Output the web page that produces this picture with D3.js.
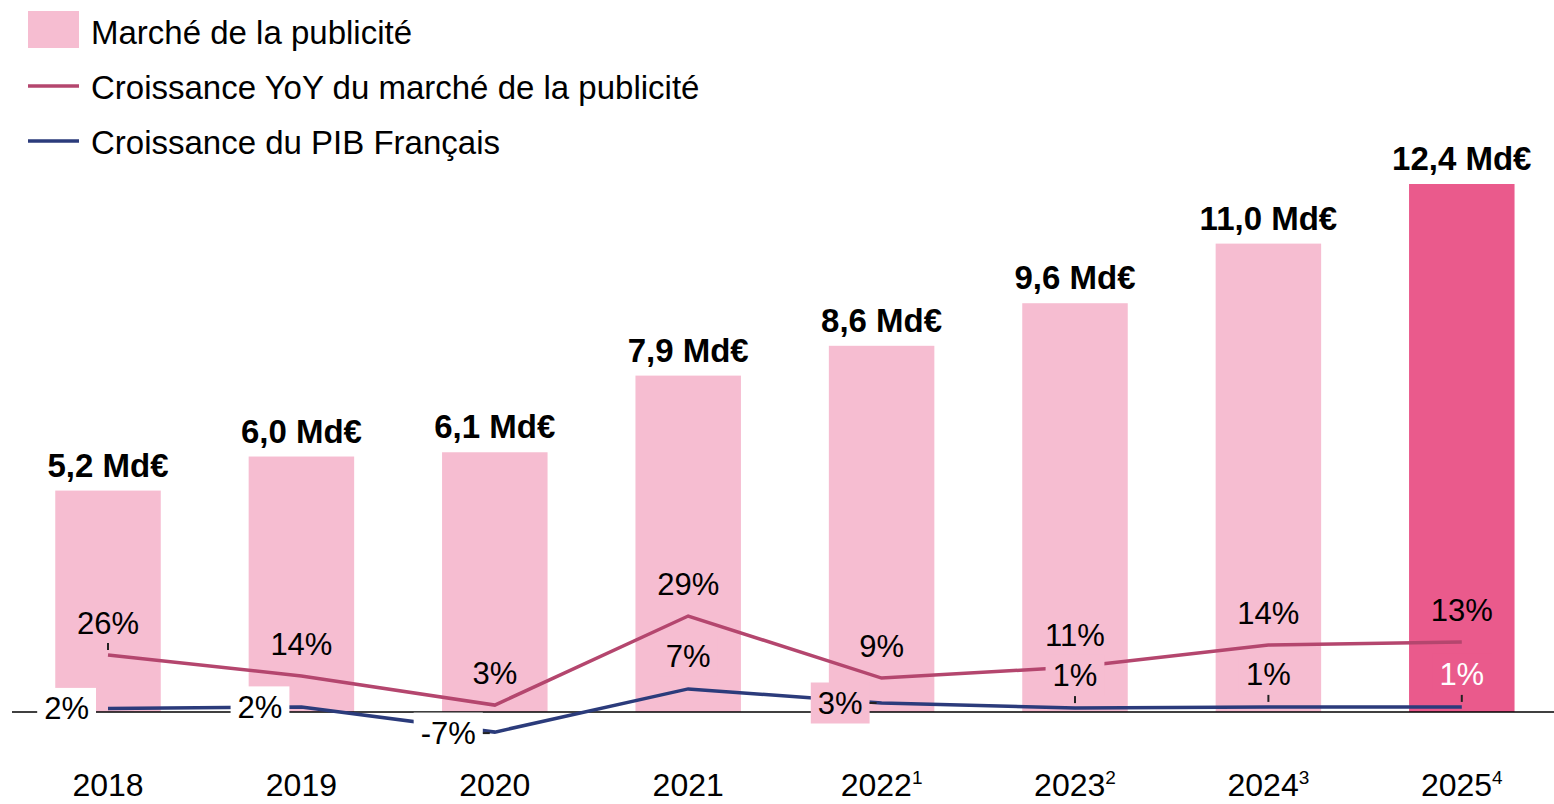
<!DOCTYPE html>
<meta charset="utf-8">
<script src="https://cdnjs.cloudflare.com/ajax/libs/d3/7.8.5/d3.min.js"></script>
<style>
  body { margin: 0; background: #fff; }
  text { font-family: "Liberation Sans", Arial, sans-serif; }
</style>
<div id="chart"></div>
<script>

  // data
  const years = ['2018', '2019', '2020', '2021', '2022', '2023', '2024', '2025']
  const yearNotes = ['', '', '', '', '1', '2', '3', '4']
  const market = [5.2, 6.0, 6.1, 7.9, 8.6, 9.6, 11.0, 12.4]           // Md€
  const adGrowth = [26, 14, 3, 29, 9, 11, 14, 13]                    // % label
  const adGrowthLine = [19.0, 12.0, 2.3, 32.0, 11.3, 15.0, 22.3, 23.3] // level as drawn
  const gdpGrowth = [2, 2, -7, 7, 3, 1, 1, 1]                        // % label
  const gdpGrowthLine = [1.2, 1.7, -6.7, 7.7, 3.0, 1.3, 1.7, 1.7]      // level as drawn
  const legendLabels = ['Marché de la publicité', 'Croissance YoY du marché de la publicité', 'Croissance du PIB Français']

  // where the GDP labels sit
  const gdpPlace = ['left', 'left', 'left', 'above', 'left', 'above', 'above', 'above']

  const width = 1554
  const height = 804
  const barColor = '#f6bdd1'
  const lastBarColor = '#ea5a8c'
  const adColor = '#b4466e'
  const gdpColor = '#2b3b7b'

  const svg = d3.select('#chart').append('svg')
    .attr('width', width)
    .attr('height', height)

  const x = d3.scaleBand().domain(years).range([11.3, 1558.5]).paddingInner(0.4545).paddingOuter(0.2273)
  const y = d3.scaleLinear().domain([0, 12.4]).range([712, 184])
  const g = d3.scaleLinear().domain([-10, 30]).range([742, 622])
  const cx = d => x(d) + x.bandwidth() / 2
  const fmt = v => d3.format('.1f')(v).replace('.', ',') + ' Md€'

  // bars
  svg.append('g').selectAll('rect')
    .data(years)
    .join('rect')
    .attr('x', d => x(d))
    .attr('y', (d, i) => y(market[i]))
    .attr('width', x.bandwidth())
    .attr('height', (d, i) => y(0) - y(market[i]))
    .attr('fill', (d, i) => i === years.length - 1 ? lastBarColor : barColor)

  // bar value labels
  svg.append('g').selectAll('text')
    .data(years)
    .join('text')
    .attr('x', d => cx(d))
    .attr('y', (d, i) => y(market[i]) - 14)
    .attr('text-anchor', 'middle')
    .attr('font-size', 33)
    .attr('font-weight', 'bold')
    .text((d, i) => fmt(market[i]))

  // axis line
  svg.append('line')
    .attr('x1', 12).attr('x2', width)
    .attr('y1', y(0)).attr('y2', y(0))
    .attr('stroke', '#000').attr('stroke-width', 1.6)

  // year labels
  const yl = svg.append('g').selectAll('text')
    .data(years)
    .join('text')
    .attr('x', d => cx(d))
    .attr('y', 796)
    .attr('text-anchor', 'middle')
    .attr('font-size', 32)
  yl.append('tspan').text(d => d)
  yl.append('tspan')
    .attr('dy', -12)
    .attr('font-size', 19)
    .text((d, i) => yearNotes[i])

  // lines
  const line = arr => d3.line().x(d => cx(d)).y((d, i) => g(arr[i]))
  svg.append('path').datum(years)
    .attr('fill', 'none').attr('stroke', adColor).attr('stroke-width', 3.5)
    .attr('d', line(adGrowthLine))
  svg.append('path').datum(years)
    .attr('fill', 'none').attr('stroke', gdpColor).attr('stroke-width', 3.5)
    .attr('d', line(gdpGrowthLine))

  // ad growth labels
  svg.append('g').selectAll('text')
    .data(years)
    .join('text')
    .attr('x', d => cx(d))
    .attr('y', (d, i) => g(adGrowthLine[i]) - 32 + 11)
    .attr('text-anchor', 'middle')
    .attr('font-size', 31)
    .text((d, i) => adGrowth[i] + '%')

  // small leader under the first ad label
  svg.append('line')
    .attr('x1', cx(years[0])).attr('x2', cx(years[0]))
    .attr('y1', g(adGrowthLine[0]) - 12).attr('y2', g(adGrowthLine[0]) - 5)
    .attr('stroke', '#222').attr('stroke-width', 2)

  // GDP labels with background boxes
  const gl = svg.append('g')
  years.forEach((d, i) => {
    const px = cx(d)
    const py = g(gdpGrowthLine[i])
    const left = gdpPlace[i] === 'left'
    const lx = left ? px - 19 : px
    const ly = left ? py + (i === 2 ? 1 : 0) : py - 33
    const lab = gl.append('g')
    const box = lab.append('rect')
    const t = lab.append('text')
      .attr('x', lx)
      .attr('y', ly + 11)
      .attr('text-anchor', left ? 'end' : 'middle')
      .attr('font-size', 31)
      .attr('fill', i === years.length - 1 ? '#fff' : '#000')
      .text(gdpGrowth[i] + '%')
    const w = t.node().getComputedTextLength()
    const x0 = left ? lx - w : lx - w / 2
    let bg = i === years.length - 1 ? lastBarColor : barColor
    if (left && i < 3) bg = '#fff'
    box.attr('x', x0 - 7).attr('y', ly - 20.5)
      .attr('width', w + 14).attr('height', 41)
      .attr('fill', bg)
    if (left && (i === 2 || i === 4)) {
      lab.append('line')
        .attr('x1', px - 12).attr('x2', px - 5)
        .attr('y1', ly).attr('y2', ly)
        .attr('stroke', '#222').attr('stroke-width', 2)
    }
    if (!left && i >= 5) {
      lab.append('line')
        .attr('x1', px).attr('x2', px)
        .attr('y1', py - 12).attr('y2', py - 5)
        .attr('stroke', '#222').attr('stroke-width', 2)
    }
  })

  // legend
  const legend = svg.append('g')
  legend.append('rect')
    .attr('x', 28).attr('y', 11).attr('width', 51).attr('height', 37)
    .attr('fill', barColor)
  legend.append('line')
    .attr('x1', 28).attr('x2', 79).attr('y1', 86).attr('y2', 86)
    .attr('stroke', adColor).attr('stroke-width', 3.5)
  legend.append('line')
    .attr('x1', 28).attr('x2', 79).attr('y1', 141).attr('y2', 141)
    .attr('stroke', gdpColor).attr('stroke-width', 3.5)
  legend.selectAll('text')
    .data(legendLabels)
    .join('text')
    .attr('x', 91)
    .attr('y', (d, i) => 44 + i * 55)
    .attr('font-size', 33)
    .text(d => d)

</script>
